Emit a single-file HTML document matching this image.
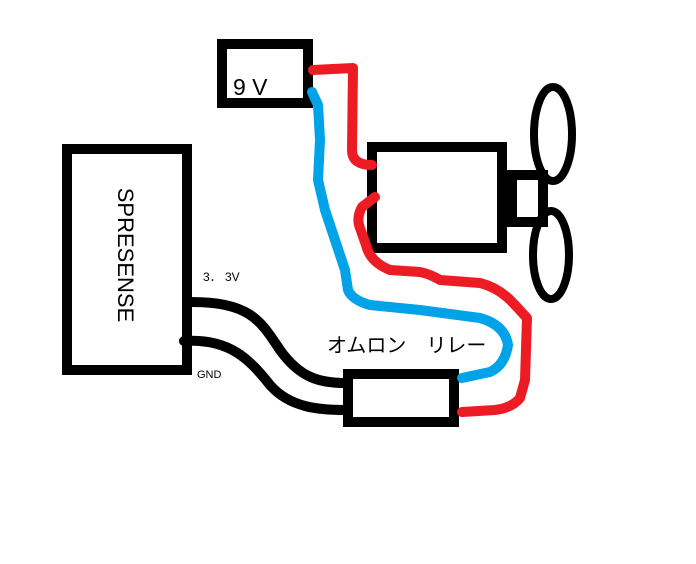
<!DOCTYPE html>
<html><head><meta charset="utf-8"><style>
html,body{margin:0;padding:0;background:#fff;width:696px;height:564px;overflow:hidden}
svg{display:block}
</style></head><body>
<svg width="696" height="564" viewBox="0 0 696 564" xmlns="http://www.w3.org/2000/svg">
<rect width="696" height="564" fill="#fff"/>
<g fill="none" stroke="#000" stroke-width="10">
<rect x="67" y="149" width="120" height="221"/>
<rect x="222" y="44" width="86" height="59"/>
<rect x="372" y="147" width="130" height="101"/>
<rect x="348" y="374" width="106" height="48"/>
<rect x="512" y="175" width="31" height="47"/>
<ellipse cx="553" cy="134" rx="19" ry="47" stroke-width="8"/>
<ellipse cx="551" cy="255" rx="18" ry="44" stroke-width="8"/>
<path d="M190 302 C 250 302, 260 320, 280 350 C 300 378, 320 383, 345 383"/>
<path d="M184 341 C 230 338, 250 360, 270 385 C 290 408, 320 410, 345 410" stroke-linecap="round"/>
</g>
<g fill="none" stroke-width="10" stroke-linecap="round" stroke-linejoin="round">
<path stroke="#ed1c24" d="M313 70 L353 68 L352 150 Q352 165 372 165"/>
<path stroke="#ed1c24" d="M375 197 L362 207 Q356 218 360 228 L366 245 Q370 262 390 270 L420 272 Q430 274 440 280 L480 283 Q500 288 515 305 L527 318 L525 380 L520 398 Q512 408 495 410 L462 412"/>
<path stroke="#00a2e8" d="M312 92 L318 105 L320 140 L318 180 L325 210 L335 240 L345 270 L348 290 Q352 300 370 305 L420 310 L480 318 Q505 325 508 345 Q505 365 490 372 L462 378"/>
</g>
<text x="233" y="95" font-family="Liberation Sans, sans-serif" font-size="23" fill="#000">9 V</text>
<text transform="translate(118,255) rotate(90)" text-anchor="middle" font-family="Liberation Sans, sans-serif" font-size="22" fill="#000">SPRESENSE</text>
<text x="203" y="281" font-family="Liberation Sans, 'Noto Sans CJK JP', sans-serif" font-size="12" fill="#000">3． 3V</text>
<text x="197" y="378" font-family="Liberation Sans, sans-serif" font-size="11" fill="#000">GND</text>
<text x="327" y="352" font-family="Liberation Sans, 'Noto Sans CJK JP', sans-serif" font-size="20" fill="#000">オムロン　リレー</text>
</svg>
</body></html>
